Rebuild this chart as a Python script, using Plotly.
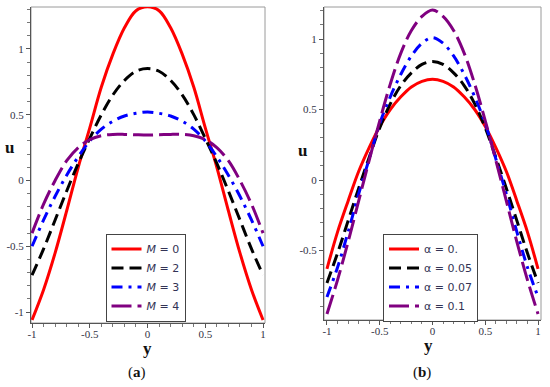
import plotly.graph_objects as go

# ---------------- Panel (a): effect of M ----------------
a_y = [-1, -0.9, -0.8, -0.7, -0.6, -0.5, -0.4, -0.3, -0.2, -0.1, 0,
       0.1, 0.2, 0.3, 0.4, 0.5, 0.6, 0.7, 0.8, 0.9, 1]
a_red_u = [-1.06, -0.83, -0.55, -0.23, 0.10, 0.40, 0.71, 0.96, 1.16, 1.29, 1.32,
           1.29, 1.16, 0.96, 0.71, 0.40, 0.10, -0.23, -0.55, -0.83, -1.06]
a_black_u = [-0.72, -0.52, -0.30, -0.08, 0.13, 0.32, 0.50, 0.65, 0.76, 0.83, 0.85,
             0.83, 0.76, 0.65, 0.50, 0.32, 0.13, -0.08, -0.30, -0.52, -0.72]
a_blue_u = [-0.50, -0.30, -0.12, 0.04, 0.18, 0.30, 0.39, 0.45, 0.49, 0.51, 0.52,
            0.51, 0.49, 0.45, 0.39, 0.30, 0.18, 0.04, -0.12, -0.30, -0.50]
a_purple_u = [-0.40, -0.18, 0.00, 0.15, 0.25, 0.31, 0.34, 0.35, 0.35, 0.347, 0.345,
              0.347, 0.35, 0.35, 0.34, 0.31, 0.25, 0.15, 0.00, -0.18, -0.40]
a_names = ["<i>M</i> = 0", "<i>M</i> = 2", "<i>M</i> = 3", "<i>M</i> = 4"]

# ---------------- Panel (b): effect of alpha ----------------
b_y = [-1, -0.9, -0.8, -0.7, -0.6, -0.5, -0.4, -0.3, -0.2, -0.1, 0,
       0.1, 0.2, 0.3, 0.4, 0.5, 0.6, 0.7, 0.8, 0.9, 1]
b_red_u = [-0.63, -0.37, -0.15, 0.06, 0.23, 0.38, 0.50, 0.59, 0.66, 0.70, 0.715,
           0.70, 0.66, 0.59, 0.50, 0.38, 0.23, 0.06, -0.15, -0.37, -0.63]
b_black_u = [-0.73, -0.52, -0.29, -0.06, 0.16, 0.37, 0.54, 0.67, 0.76, 0.82, 0.84,
             0.82, 0.76, 0.67, 0.54, 0.37, 0.16, -0.06, -0.29, -0.52, -0.73]
b_blue_u = [-0.83, -0.62, -0.37, -0.10, 0.15, 0.40, 0.59, 0.75, 0.88, 0.97, 1.01,
            0.97, 0.88, 0.75, 0.59, 0.40, 0.15, -0.10, -0.37, -0.62, -0.83]
b_purple_u = [-0.95, -0.71, -0.44, -0.15, 0.14, 0.42, 0.68, 0.90, 1.06, 1.16, 1.205,
              1.16, 1.06, 0.90, 0.68, 0.42, 0.14, -0.15, -0.44, -0.71, -0.95]
b_names = ["\u03b1 = 0.", "\u03b1 = 0.05", "\u03b1 = 0.07", "\u03b1 = 0.1"]

tick_vals = [-1, -0.5, 0, 0.5, 1]
tick_text = ["-1", "-0.5", "0", "0.5", "1"]

colors = ["#ff0000", "#000000", "#0000ff", "#800080"]
dashes = ["solid", "12px,6px", "11px,6px,3px,6px", "20px,6px"]

fig = go.Figure()

for us, nm, c, d in zip([a_red_u, a_black_u, a_blue_u, a_purple_u], a_names, colors, dashes):
    fig.add_trace(go.Scatter(x=a_y, y=us, mode="lines", name=nm, xaxis="x", yaxis="y",
                             line=dict(color=c, width=3, dash=d, shape="spline", smoothing=1.0),
                             legend="legend"))
for us, nm, c, d in zip([b_red_u, b_black_u, b_blue_u, b_purple_u], b_names, colors, dashes):
    fig.add_trace(go.Scatter(x=b_y, y=us, mode="lines", name=nm, xaxis="x2", yaxis="y2",
                             line=dict(color=c, width=3, dash=d, shape="spline", smoothing=1.0),
                             legend="legend2"))

W, H = 550, 387
tickfont = dict(family="Liberation Serif", size=11, color="#333345")


def ax(domain, rng, anchor, standoff):
    return dict(domain=domain, range=rng, anchor=anchor, showgrid=False, zeroline=False,
                automargin=False,
                showline=True, linecolor="#555555", linewidth=1,
                ticks="outside", ticklen=4, tickwidth=1, tickcolor="#555555",
                tickvals=tick_vals, ticktext=tick_text, tickfont=tickfont,
                ticklabelstandoff=standoff,
                minor=dict(dtick=0.1, tick0=0, ticks="outside", ticklen=3, tickcolor="#777777"))


legfont = dict(family="DejaVu Sans", size=11, color="#333355")
fig.update_layout(
    template="none",
    width=W, height=H, margin=dict(l=0, r=0, t=0, b=0, pad=0),
    paper_bgcolor="white", plot_bgcolor="white",
    xaxis=ax([31 / W, 265 / W], [-1.009, 1.017], "y", -3),
    yaxis=ax([1 - 323 / H, 1 - 7 / H], [-1.083, 1.318], "x", 0),
    xaxis2=ax([324 / W, 541 / W], [-1.028, 1.028], "y2", -3),
    yaxis2=ax([1 - 320 / H, 1 - 7 / H], [-0.993, 1.227], "x2", 0),
    legend=dict(x=145.5 / W, y=1 - 277.5 / H, xanchor="center", yanchor="middle",
                bgcolor="white", bordercolor="#444444", borderwidth=1,
                font=legfont, tracegroupgap=0, itemwidth=30),
    legend2=dict(x=430.5 / W, y=1 - 277.5 / H, xanchor="center", yanchor="middle",
                 bgcolor="white", bordercolor="#444444", borderwidth=1,
                 font=legfont, tracegroupgap=0, itemwidth=30),
    showlegend=True,
)

for xr, yr in [("x", "y"), ("x2", "y2")]:
    fig.add_shape(type="rect", xref=f"{xr} domain", yref=f"{yr} domain", x0=0, x1=1, y0=0, y1=1,
                  line=dict(color="#9a9a9a", width=1), layer="below")

serif = "Liberation Serif"
ann = [
    ("<b>u</b>", 9, 147, 17),
    ("<b>u</b>", 302, 150, 17),
    ("<b>y</b>", 147, 348, 17),
    ("<b>y</b>", 428, 345, 17),
    ("(<b>a</b>)", 137, 372, 15),
    ("(<b>b</b>)", 422, 372, 15),
]
for t, px, py, sz in ann:
    fig.add_annotation(text=t, x=px / W, y=1 - py / H, xref="paper", yref="paper",
                       showarrow=False, xanchor="center", yanchor="middle",
                       font=dict(family=serif, size=sz, color="#111111"))

fig.write_html("out.html", config={"displayModeBar": False},
               post_script="document.body.style.margin='0px';document.body.style.padding='0px';")
